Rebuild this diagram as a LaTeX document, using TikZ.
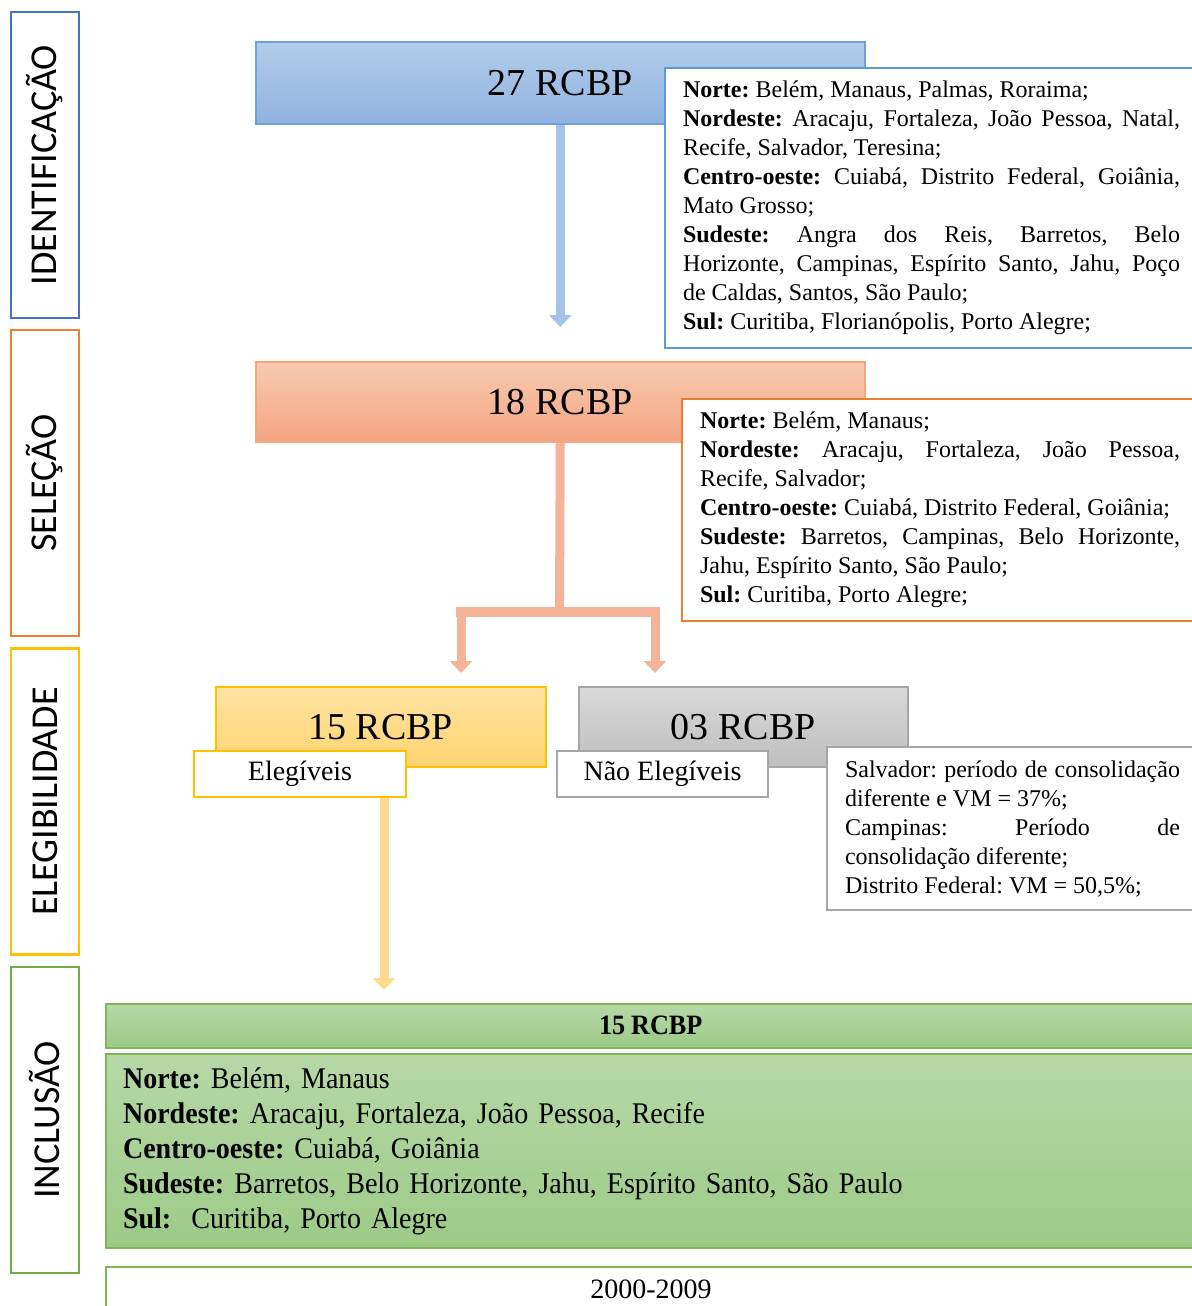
\documentclass[tikz,border=0pt]{standalone}
\usepackage{fontspec}
\setmainfont{Liberation Serif}[WordSpace={1,1,0}]
\newfontfamily\stagefont{Carlito}
\newfontfamily\condfont{Liberation Serif}[FakeStretch=0.935,WordSpace={0.9,1,0}]
\usetikzlibrary{positioning,arrows.meta}
\definecolor{stgblue}{HTML}{4472C4}
\definecolor{stgorange}{HTML}{ED7D31}
\definecolor{stggold}{HTML}{FFC000}
\definecolor{stggreen}{HTML}{70AD47}
\definecolor{bluetop}{HTML}{B3CCEA}
\definecolor{bluebot}{HTML}{8FB3DF}
\definecolor{blueedge}{HTML}{6FA0D8}
\definecolor{infoblue}{HTML}{5B9BD5}
\definecolor{saltop}{HTML}{F8CBB0}
\definecolor{salbot}{HTML}{F4A482}
\definecolor{saledge}{HTML}{F4A680}
\definecolor{yeltop}{HTML}{FFE3A3}
\definecolor{yelbot}{HTML}{FFD470}
\definecolor{graytop}{HTML}{D9D9D9}
\definecolor{graybot}{HTML}{BEBEBE}
\definecolor{grayedge}{HTML}{A6A6A6}
\definecolor{grntop}{HTML}{B6D8A6}
\definecolor{grnbot}{HTML}{9DCA87}
\definecolor{grnedge}{HTML}{7CB55A}
\definecolor{arrblue}{HTML}{A3C3E9}
\definecolor{arrsalmon}{HTML}{F5B49A}
\definecolor{arryellow}{HTML}{FFD98C}
\hyphenpenalty=10000
\exhyphenpenalty=10000
\frenchspacing

\begin{document}
\begin{tikzpicture}[
  x=0.5pt, y=-0.5pt,
  stage/.style={draw, line width=1.25pt, fill=white, rotate=90,
                minimum width=153pt, minimum height=34pt, inner sep=0pt,
                font=\stagefont\fontsize{19}{22}\selectfont},
  countbox/.style={line width=0.75pt, anchor=north west, inner sep=0pt,
                   font=\fontsize{19}{22}\selectfont},
  tagbox/.style={draw, line width=1pt, fill=white, anchor=north west,
                 inner sep=0pt, font=\fontsize{14}{16}\selectfont},
  listbox/.style={draw, line width=1pt, fill=white, anchor=north west,
                  inner xsep=9pt, inner ysep=0pt, align=justify,
                  font=\fontsize{12}{14.5}\selectfont},
  arr/.style={line width=4.5pt, -{Triangle[width=11pt,length=6pt]}},
]
\useasboundingbox (0,0) rectangle (1192,1306);
\clip (0,0) rectangle (1192,1306);

% ─── stage labels (left column) ────────────────────────────────────────────
\newcommand{\stagelabel}[4]{%
  \node[stage, draw=#3] (#1) at (45,#2) {#4};
}
\stagelabel{ident}{165}{stgblue}{IDENTIFICAÇÃO}
\stagelabel{selec}{483}{stgorange}{SELEÇÃO}
\stagelabel{elegib}{801.5}{stggold}{ELEGIBILIDADE}
\stagelabel{inclu}{1120}{stggreen}{INCLUSÃO}

% ─── identification ────────────────────────────────────────────────────────
\node[countbox, draw=blueedge, top color=bluetop, bottom color=bluebot,
      minimum width=304.5pt, minimum height=41pt] (rc27) at (255,41) {27 RCBP};
\node[listbox, draw=infoblue, text width=248.5pt, minimum height=140pt] (list27) at (664,67)
  {\textbf{Norte:} Belém, Manaus, Palmas, Roraima;\\
   \textbf{Nordeste:} Aracaju, Fortaleza, João Pessoa, Natal, Recife, Salvador, Teresina;\\
   \textbf{Centro-oeste:} Cuiabá, Distrito Federal, Goiânia, Mato Grosso;\\
   \textbf{Sudeste:} Angra dos Reis, Barretos, Belo Horizonte, Campinas, Espírito Santo, Jahu, Poço de Caldas, Santos, São Paulo;\\
   \textbf{Sul:} Curitiba, Florianópolis, Porto Alegre;};

% ─── selection ─────────────────────────────────────────────────────────────
\node[countbox, draw=saledge, top color=saltop, bottom color=salbot,
      minimum width=304.5pt, minimum height=40pt] (rc18) at (255,361) {18 RCBP};
\node[listbox, draw=stgorange, text width=240pt, minimum height=111pt] (list18) at (681,398)
  {\textbf{Norte:} Belém, Manaus;\\
   \textbf{Nordeste:} Aracaju, Fortaleza, João Pessoa, Recife, Salvador;\\
   \textbf{Centro-oeste:} Cuiabá, Distrito Federal, Goiânia;\\
   \textbf{Sudeste:} Barretos, Campinas, Belo Horizonte, Jahu, Espírito Santo, São Paulo;\\
   \textbf{Sul:} Curitiba, Porto Alegre;};

\draw[arr, draw=arrblue, shorten >=17pt] (rc27.south) -- (rc27.south |- rc18.north);

% ─── eligibility ───────────────────────────────────────────────────────────
\node[countbox, draw=stggold, top color=yeltop, bottom color=yelbot,
      minimum width=165pt, minimum height=40pt] (rc15) at (215,686) {15 RCBP};
\node[tagbox, draw=stggold, minimum width=106pt, minimum height=23pt] (eleg) at (193,750) {Elegíveis};
\node[countbox, draw=grayedge, top color=graytop, bottom color=graybot,
      minimum width=164.5pt, minimum height=40pt] (rc03) at (578,686) {03 RCBP};
\node[tagbox, draw=grayedge, minimum width=105.5pt, minimum height=23pt] (neleg) at (556,750) {Não Elegíveis};
\node[listbox, draw=grayedge, text width=167.5pt, minimum height=81.5pt] (list03) at (826,746)
  {Salvador: período de consolidação diferente e VM = 37\%;\\
   Campinas: Período de consolidação diferente;\\
   Distrito Federal: VM = 50,5\%;};

\coordinate (split) at (559.5,612);
\coordinate (splitL) at (461,612);
\coordinate (splitR) at (655,612);
\draw[line width=4.5pt, draw=arrsalmon] (rc18.south) -- (split);
\draw[line width=5pt, draw=arrsalmon, line cap=rect] (splitL) -- (splitR);
\draw[arr, draw=arrsalmon, shorten >=6.5pt] (splitL) -- (splitL |- rc15.north);
\draw[arr, draw=arrsalmon, shorten >=6.5pt] (splitR) -- (splitR |- rc03.north);

% ─── inclusion ─────────────────────────────────────────────────────────────
\node[countbox, draw=grnedge, top color=grntop, bottom color=grnbot,
      minimum width=545pt, minimum height=22pt,
      font=\condfont\bfseries\fontsize{14}{16}\selectfont] (rcincl) at (105,1003) {15 RCBP};
\node[listbox, draw=grnedge, top color=grntop, bottom color=grnbot, align=left,
      text width=528pt, inner xsep=8.5pt, minimum height=97pt,
      font=\condfont\fontsize{15}{17.5}\selectfont] (listincl) at (105,1053)
  {\textbf{Norte:} Belém, Manaus\\
   \textbf{Nordeste:} Aracaju, Fortaleza, João Pessoa, Recife\\
   \textbf{Centro-oeste:} Cuiabá, Goiânia\\
   \textbf{Sudeste:} Barretos, Belo Horizonte, Jahu, Espírito Santo, São Paulo\\
   \textbf{Sul:}~ Curitiba, Porto Alegre};
\node[tagbox, draw=grnedge, minimum width=545pt, minimum height=22pt] (period) at (105,1266) {2000-2009};

\draw[arr, draw=arryellow, shorten >=6.5pt]
  ([xshift=42pt]eleg.south) -- ([xshift=42pt]eleg.south |- rcincl.north);

\end{tikzpicture}
\end{document}
